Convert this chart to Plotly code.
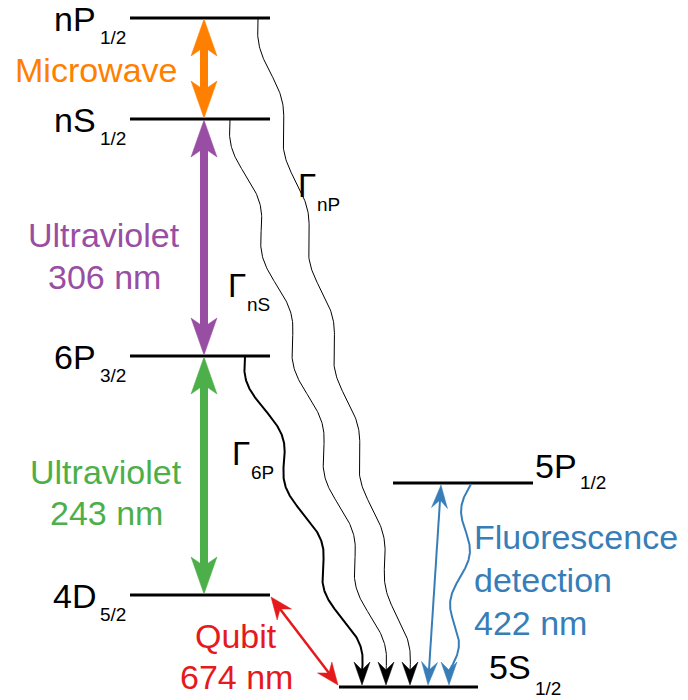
import numpy as np
import plotly.graph_objects as go

# ---------------- data ----------------
level_names = ["nP", "nS", "6P", "4D", "5P", "5S"]
level_subscripts = ["1/2", "1/2", "3/2", "5/2", "1/2", "1/2"]
level_heights = [18, 119, 356, 595, 483, 687]   # vertical position of each level in the diagram

laser_upper = ["nP", "nS", "6P", "4D", "5P"]
laser_lower = ["nS", "6P", "4D", "5S", "5S"]
laser_lines = [["Microwave"], ["Ultraviolet", "306 nm"], ["Ultraviolet", "243 nm"],
               ["Qubit", "674 nm"], ["Fluorescence", "detection", "422 nm"]]

decay_upper = ["nP", "nS", "6P", "5P"]
decay_lower = "5S"
decay_subscripts = ["nP", "nS", "6P", ""]

# ---------------- style / layout constants ----------------
W, H = 688, 700
FONT = "Liberation Sans, Arial, sans-serif"
ORANGE, PURPLE, GREEN, RED, BLUE = "#FF7F00", "#984EA3", "#4DAF4A", "#E41A1C", "#377EB8"
laser_colors = [ORANGE, PURPLE, GREEN, RED, BLUE]
level_x = {"nP": (130, 270), "nS": (130, 270), "6P": (130, 270), "4D": (130, 270),
           "5P": (393, 533), "5S": (339, 478)}
E = dict(zip(level_names, level_heights))

fig = go.Figure()


def add_line(xs, ys, color, width):
    fig.add_trace(go.Scatter(x=list(xs), y=list(ys), mode="lines",
                             line=dict(color=color, width=width),
                             hoverinfo="skip", showlegend=False))


def add_head(tip, direction, color, L, Wd, N):
    tx, ty = tip
    dx, dy = direction
    n = np.hypot(dx, dy)
    dx, dy = dx / n, dy / n
    px, py = -dy, dx
    xs = [tx, tx - dx * L + px * Wd, tx - dx * N, tx - dx * L - px * Wd, tx]
    ys = [ty, ty - dy * L + py * Wd, ty - dy * N, ty - dy * L - py * Wd, ty]
    fig.add_trace(go.Scatter(x=xs, y=ys, mode="lines", fill="toself", fillcolor=color,
                             line=dict(color=color, width=0.5),
                             hoverinfo="skip", showlegend=False))


def double_arrow(p1, p2, color, width, L, Wd, N):
    (x1, y1), (x2, y2) = p1, p2
    d = np.array([x2 - x1, y2 - y1], float)
    d /= np.hypot(*d)
    s1 = (x1 + d[0] * (N - 1), y1 + d[1] * (N - 1))
    s2 = (x2 - d[0] * (N - 1), y2 - d[1] * (N - 1))
    add_line([s1[0], s2[0]], [s1[1], s2[1]], color, width)
    add_head(p1, (-d[0], -d[1]), color, L, Wd, N)
    add_head(p2, (d[0], d[1]), color, L, Wd, N)


# energy levels
for name in level_names:
    x0, x1 = level_x[name]
    add_line([x0, x1], [E[name], E[name]], "black", 3)

# decay (wavy) lines
decay_start_x = {"nP": 258, "nS": 230, "6P": 245, "5P": 471}
decay_tip_x = {"nP": 410, "nS": 386, "6P": 362, "5P": 449}
decay_waves = {"nP": 6, "nS": 5, "6P": 3, "5P": 2}
decay_width = {"nP": 1, "nS": 1, "6P": 2, "5P": 2}
for name in decay_upper:
    color = BLUE if name == "5P" else "black"
    y0 = E[name] + 1
    tip_y = E[decay_lower] - 2
    y_end = tip_y - 14
    x0 = decay_start_x[name]
    xt = decay_tip_x[name]
    Ly = y_end - y0
    slope = (xt - x0) / Ly
    lam = Ly / decay_waves[name]
    amp = 1.25 * slope * lam / (2 * np.pi) if name != "5P" else 7.0
    yy = np.linspace(y0, y_end, 400)
    xx = x0 + slope * (yy - y0) - amp * np.sin(2 * np.pi * (yy - y0) / lam)
    add_line(xx, yy, color, decay_width[name])
    add_head((xt, tip_y), (0, 1), color, 23, 8, 15)

# laser / coupling arrows
for up, lo, col in zip(laser_upper, laser_lower, laser_colors):
    if col in (ORANGE, PURPLE, GREEN):
        double_arrow((204, E[up] + 1), (204, E[lo] - 1), col, 8, 37, 13, 28)
    elif col == RED:
        double_arrow((271, E[up] + 2), (338, E[lo] - 2), col, 2.5, 22, 9, 15)
    else:
        double_arrow((441, E[up] + 2), (428, E[lo] - 2), col, 2, 23, 8, 15)

# ---------------- text ----------------
ann = []


def text(x, y, s, size, color="black", xanchor="center"):
    ann.append(dict(x=x, y=y, xref="x", yref="y", text=s, showarrow=False,
                    xanchor=xanchor, yanchor="middle",
                    font=dict(family=FONT, size=size, color=color)))


MAIN, SUB = 34, 19
for name, sub in zip(level_names, level_subscripts):
    y = E[name]
    if name in ("5P",):
        text(533, y - 17, name, MAIN, xanchor="left")
        text(578, y - 1, sub, SUB, xanchor="left")
    elif name == "5S":
        text(487, y - 20, name, MAIN, xanchor="left")
        text(533, y + 1, sub, SUB, xanchor="left")
    else:
        text(98, y + 1, name, MAIN, xanchor="right")
        text(98, y + 19, sub, SUB, xanchor="left")

# laser labels
label_pos = [(96, [70]), (104, [235, 277]), (106, [472, 513]), (236, [636, 677]),
             (472, [537, 580, 623])]
for (x, ys), lines, col in zip(label_pos, laser_lines, laser_colors):
    for y, s in zip(ys, lines):
        text(x, y, s, MAIN, col, xanchor="left" if col == BLUE else "center")

# decay labels
gamma_pos = {"nP": (296, 185), "nS": (226, 285), "6P": (230, 453)}
for name, sub in zip(decay_upper, decay_subscripts):
    if not sub:
        continue
    gx, gy = gamma_pos[name]
    text(gx, gy, "Γ", 33, xanchor="left")
    text(gx + 19, gy + 19, sub, SUB, xanchor="left")

fig.update_layout(
    width=W, height=H, margin=dict(l=0, r=0, t=0, b=0),
    paper_bgcolor="white", plot_bgcolor="white",
    xaxis=dict(range=[0, W], visible=False, fixedrange=True),
    yaxis=dict(range=[H, 0], visible=False, fixedrange=True),
    annotations=ann, showlegend=False,
)

fig.write_html("out.html")
